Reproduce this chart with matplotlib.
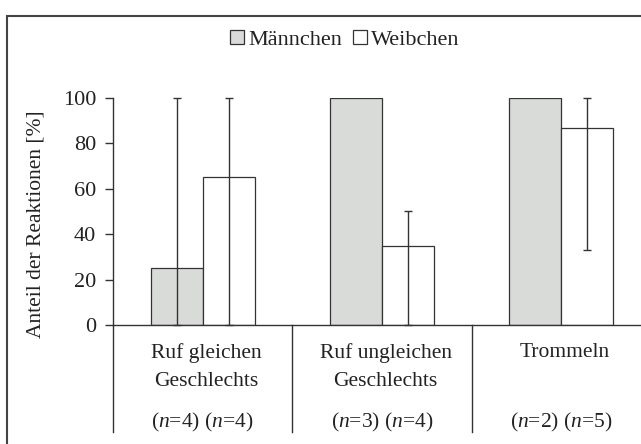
import numpy as np
import matplotlib.pyplot as plt
from matplotlib.patches import Rectangle

# -----------------------------
# Data
# -----------------------------
categories = ["Ruf gleichen\nGeschlechts", "Ruf ungleichen\nGeschlechts", "Trommeln"]
n_male = [4, 3, 2]
n_female = [4, 4, 5]

male = [25, 100, 100]
male_err_low = [25, 0, 0]
male_err_high = [75, 0, 0]

female = [65, 35, 87]
female_err_low = [65, 35, 54]
female_err_high = [35, 15, 13]

yticks = [0, 20, 40, 60, 80, 100]

# -----------------------------
# Style
# -----------------------------
plt.rcParams["font.family"] = ["Liberation Serif", "DejaVu Serif"]
plt.rcParams["mathtext.fontset"] = "custom"
plt.rcParams["mathtext.rm"] = "Liberation Serif"
plt.rcParams["mathtext.it"] = "Liberation Serif:italic"

W, H = 641, 444
fig = plt.figure(figsize=(W / 100, H / 100), dpi=100)
ax = fig.add_axes([113 / W, (H - 325) / H, (651 - 113) / W, 227 / H])

x = np.arange(len(categories))
bw = 0.29
line_col = "#333333"
text_col = "#222222"

ax.bar(x - bw / 2, male, bw, color="#d9dbd9", edgecolor=line_col, linewidth=0.9,
       label="Männchen")
ax.bar(x + bw / 2, female, bw, color="white", edgecolor=line_col, linewidth=0.9,
       label="Weibchen")

# error bars (only where a range is shown)
m_mask = [(lo + hi) > 0 for lo, hi in zip(male_err_low, male_err_high)]
xm = (x - bw / 2)[m_mask]
ax.errorbar(xm, np.array(male)[m_mask],
            yerr=[np.array(male_err_low)[m_mask], np.array(male_err_high)[m_mask]],
            fmt="none", ecolor=line_col, elinewidth=1.0, capsize=3, capthick=1.0,
            clip_on=False)
ax.errorbar(x + bw / 2, female, yerr=[female_err_low, female_err_high],
            fmt="none", ecolor=line_col, elinewidth=1.0, capsize=3, capthick=1.0,
            clip_on=False)

ax.set_xlim(-0.5, 2.5)
ax.set_ylim(0, 100)
ax.set_yticks(yticks)
ax.tick_params(axis="y", direction="out", length=6, width=1, color=line_col,
               labelsize=16, pad=6, labelcolor=text_col)
ax.tick_params(axis="x", bottom=False, labelbottom=False)
for s in ["top", "right"]:
    ax.spines[s].set_visible(False)
for s in ["left", "bottom"]:
    ax.spines[s].set_color(line_col)
    ax.spines[s].set_linewidth(1.0)

# category "table" below the axis
xt = ax.get_xaxis_transform()
for xs in [-0.5, 0.5, 1.5, 2.5]:
    ax.plot([xs, xs], [0, -0.471], transform=xt,
            color=line_col, linewidth=1.0, clip_on=False)

for i, cat in enumerate(categories):
    for j, line in enumerate(cat.split("\n")):
        ax.text(i + 0.02, -0.123 - j * 0.124, line, transform=xt,
                ha="center", va="center", fontsize=15.5, color=text_col)
    ax.text(i, -0.428, f"($n$={n_male[i]}) ($n$={n_female[i]})",
            transform=xt, ha="center", va="center", fontsize=15.5, color=text_col)

fig.text(36 / W, (H - 224) / H, "Anteil der Reaktionen [%]", rotation=90,
         ha="center", va="center", fontsize=15.5, color=text_col)

leg = fig.legend(loc="center", bbox_to_anchor=(345 / W, (H - 40) / H), ncol=2,
                 frameon=False, fontsize=16, handlelength=0.6, handleheight=0.6,
                 handletextpad=0.2, columnspacing=0.5)
for t in leg.get_texts():
    t.set_color(text_col)

# outer frame
fig.patches.append(Rectangle((7 / W, -0.1), 1.2, (H - 16) / H + 0.1,
                             transform=fig.transFigure, fill=False,
                             edgecolor="#444444", linewidth=1.5))

fig.savefig("out.png", dpi=100)
